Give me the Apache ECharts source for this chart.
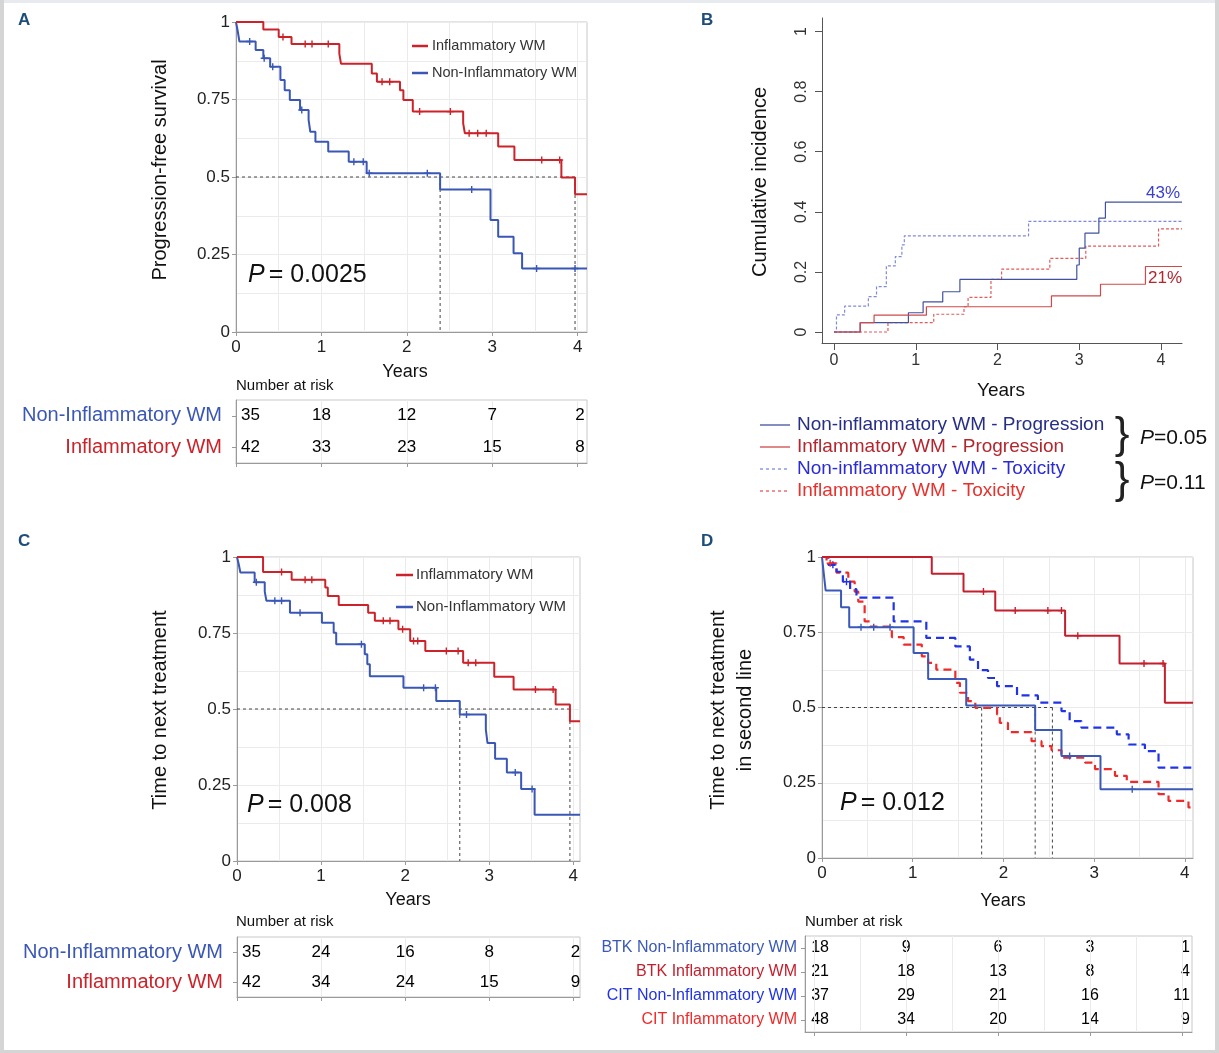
<!DOCTYPE html>
<html><head><meta charset="utf-8">
<script src="https://cdn.jsdelivr.net/npm/echarts@6/dist/echarts.min.js"></script>
<style>html,body{margin:0;padding:0;background:#fff}#c{width:1219px;height:1053px}</style>
</head><body><div id="c"></div><script>
// ---------------- DATA ----------------
const yearTicks = [0, 1, 2, 3, 4];
// Panel A: progression-free survival
const A_inf_t = [0, 0.32, 0.50, 0.65, 1.21, 1.23, 1.59, 1.65, 1.92, 1.96, 2.07, 2.66, 2.68, 3.07, 3.26, 3.81, 3.97, 4.11];
const A_inf_s = [1, 0.976, 0.952, 0.929, 0.897, 0.865, 0.834, 0.807, 0.78, 0.748, 0.711, 0.673, 0.641, 0.598, 0.555, 0.498, 0.444, 0.444];
const A_inf_cens = [0.55, 0.81, 0.89, 1.08, 1.71, 1.80, 2.15, 2.51, 2.73, 2.83, 2.93, 3.58, 3.79];
const A_non_t = [0, 0.02, 0.04, 0.23, 0.32, 0.40, 0.52, 0.57, 0.63, 0.75, 0.85, 0.87, 0.93, 1.08, 1.32, 1.53, 2.39, 2.98, 3.07, 3.25, 3.35, 4.11];
const A_non_s = [1, 0.971, 0.937, 0.91, 0.883, 0.856, 0.813, 0.78, 0.748, 0.716, 0.684, 0.646, 0.614, 0.582, 0.549, 0.512, 0.46, 0.361, 0.307, 0.254, 0.205, 0.205];
const A_non_cens = [0.16, 0.33, 0.43, 0.77, 1.38, 1.49, 1.56, 2.24, 2.76, 3.52, 3.97];
const A_medians = [2.39, 3.97];
const A_risk_rows = ['Non-Inflammatory WM', 'Inflammatory WM'];
const A_risk_non = [35, 18, 12, 7, 2];
const A_risk_inf = [42, 33, 23, 15, 8];

// Panel B: cumulative incidence
const B_nonProg_t = [0, 0.32, 0.91, 1.09, 1.33, 1.54, 2.97, 3.0, 3.07, 3.24, 3.32, 4.257];
const B_nonProg_v = [0, 0.031, 0.064, 0.10, 0.134, 0.175, 0.223, 0.279, 0.329, 0.379, 0.432, 0.432];
const B_infProg_t = [0, 0.32, 0.49, 1.13, 2.66, 3.26, 3.81, 4.257];
const B_infProg_v = [0, 0.031, 0.056, 0.084, 0.12, 0.159, 0.218, 0.218];
const B_nonTox_t = [0, 0.03, 0.13, 0.42, 0.52, 0.64, 0.75, 0.83, 0.86, 2.38, 4.257];
const B_nonTox_v = [0, 0.057, 0.086, 0.118, 0.151, 0.22, 0.251, 0.29, 0.32, 0.368, 0.368];
const B_infTox_t = [0, 0.66, 1.22, 1.59, 1.64, 1.92, 2.05, 2.64, 3.08, 3.97, 4.257];
const B_infTox_v = [0, 0.031, 0.059, 0.084, 0.115, 0.175, 0.209, 0.245, 0.286, 0.343, 0.343];
const B_yTicks = [0, 0.2, 0.4, 0.6, 0.8, 1];

// Panel C: time to next treatment
const C_inf_t = [0, 0.31, 0.65, 1.05, 1.08, 1.21, 1.56, 1.64, 1.92, 2.06, 2.24, 2.69, 3.06, 3.29, 3.79, 3.96, 4.08];
const C_inf_s = [1, 0.951, 0.925, 0.90, 0.872, 0.842, 0.817, 0.79, 0.762, 0.724, 0.691, 0.652, 0.606, 0.564, 0.515, 0.46, 0.46];
const C_inf_cens = [0.53, 0.81, 0.89, 1.74, 1.82, 1.97, 2.10, 2.15, 2.49, 2.63, 2.75, 2.84, 3.55, 3.76];
const C_non_t = [0, 0.02, 0.04, 0.21, 0.33, 0.35, 0.63, 1.01, 1.15, 1.18, 1.52, 1.55, 1.58, 1.98, 2.37, 2.65, 2.96, 2.98, 3.07, 3.21, 3.38, 3.54, 4.08];
const C_non_s = [1, 0.977, 0.949, 0.917, 0.886, 0.856, 0.817, 0.784, 0.751, 0.713, 0.68, 0.647, 0.608, 0.57, 0.526, 0.482, 0.432, 0.388, 0.336, 0.291, 0.237, 0.152, 0.152];
const C_non_cens = [0.23, 0.45, 0.53, 0.75, 1.48, 2.22, 2.36, 2.73, 3.31, 3.51];
const C_medians = [2.65, 3.96];
const C_risk_non = [35, 24, 16, 8, 2];
const C_risk_inf = [42, 34, 24, 15, 9];

// Panel D: time to next treatment in second line
const D_btkInf_t = [0, 1.21, 1.56, 1.91, 2.68, 3.28, 3.78, 4.09];
const D_btkInf_s = [1, 0.944, 0.885, 0.822, 0.738, 0.646, 0.516, 0.516];
const D_btkInf_cens = [1.78, 2.13, 2.49, 2.64, 2.82, 3.55, 3.76];
const D_btkNon_t = [0, 0.02, 0.04, 0.21, 0.30, 1.01, 1.17, 1.59, 2.35, 2.64, 3.07, 4.09];
const D_btkNon_s = [1, 0.944, 0.889, 0.833, 0.767, 0.681, 0.595, 0.507, 0.425, 0.339, 0.228, 0.228];
const D_btkNon_cens = [0.43, 0.57, 0.75, 2.73, 3.42];
const D_citNon_t = [0, 0.07, 0.16, 0.23, 0.31, 0.38, 0.79, 1.15, 1.47, 1.63, 1.72, 1.83, 1.93, 2.15, 2.38, 2.64, 2.73, 2.86, 3.25, 3.38, 3.56, 3.71, 4.09];
const D_citNon_s = [1, 0.974, 0.951, 0.918, 0.893, 0.865, 0.786, 0.731, 0.703, 0.659, 0.624, 0.598, 0.571, 0.54, 0.516, 0.488, 0.455, 0.433, 0.411, 0.377, 0.355, 0.30, 0.30];
const D_citNon_cens = [0.12, 0.27];
const D_citInf_t = [0, 0.05, 0.16, 0.29, 0.36, 0.40, 0.47, 0.53, 0.77, 0.90, 1.10, 1.17, 1.26, 1.47, 1.52, 1.61, 1.69, 1.93, 1.96, 2.05, 2.31, 2.42, 2.53, 2.64, 2.90, 3.01, 3.23, 3.36, 3.71, 3.82, 4.04, 4.09];
const D_citInf_s = [1, 0.979, 0.948, 0.918, 0.885, 0.852, 0.786, 0.769, 0.734, 0.709, 0.67, 0.648, 0.626, 0.582, 0.549, 0.521, 0.499, 0.477, 0.449, 0.418, 0.388, 0.372, 0.358, 0.333, 0.317, 0.295, 0.273, 0.253, 0.212, 0.19, 0.168, 0.168];
const D_citInf_cens = [0.09];
const D_medians = [1.76, 2.35, 2.54];
const D_risk_rows = ['BTK Non-Inflammatory WM', 'BTK Inflammatory WM', 'CIT Non-Inflammatory WM', 'CIT Inflammatory WM'];
const D_risk_btkNon = [18, 9, 6, 3, 1];
const D_risk_btkInf = [21, 18, 13, 8, 4];
const D_risk_citNon = [37, 29, 21, 16, 11];
const D_risk_citInf = [48, 34, 20, 14, 9];

// ---------------- STYLE ----------------
const FONT = '"Liberation Sans", Arial, Helvetica, sans-serif';
const RED = '#cc2229', BLUE = '#3a57b5';
const D_BTK_INF = '#c41f2c', D_BTK_NON = '#3a59b8', D_CIT_NON = '#2034e6', D_CIT_INF = '#ef2a2a';
const GRIDC = '#ebebeb', AXC = '#9a9a9a';
const PLUS = 'path://M4,0H6V4H10V6H6V10H4V6H0V4H4Z';

// ---------------- HELPERS ----------------
const pts = (t, s) => t.map((x, i) => [x, s[i]]);
function stepAt(t, s, x) { let v = s[0]; for (let i = 0; i < t.length; i++) if (t[i] <= x) v = s[i]; return v; }
function curve(ax, t, s, color, width, dash) {
  return { type: 'line', xAxisIndex: ax, yAxisIndex: ax, data: pts(t, s), step: 'end', symbol: 'none',
    lineStyle: { color, width, type: dash || 'solid' }, silent: true, z: 3 };
}
function censors(ax, t, s, c, color) {
  return { type: 'scatter', xAxisIndex: ax, yAxisIndex: ax, data: c.map(x => [x, stepAt(t, s, x)]),
    symbol: PLUS, symbolSize: 7, itemStyle: { color, opacity: 1 }, silent: true, z: 4 };
}
function seg(ax, a, b) {
  return { type: 'line', xAxisIndex: ax, yAxisIndex: ax, data: [a, b], symbol: 'none', silent: true, z: 2,
    lineStyle: { color: '#444', width: 1, type: [3, 3] } };
}
function medians(ax, meds) {
  const out = [seg(ax, [0, 0.5], [Math.max(...meds), 0.5])];
  meds.forEach(m => out.push(seg(ax, [m, 0.5], [m, 0])));
  return out;
}
function riskSeries(ax, row, vals, offL, offR, size) {
  return { type: 'scatter', xAxisIndex: ax, yAxisIndex: ax, symbolSize: 0, silent: true,
    itemStyle: { opacity: 1, color: '#000' },
    data: vals.map((v, i) => {
      const lab = i === 0 ? { align: 'left', offset: [offL, 0] } : (i === vals.length - 1 ? { align: 'right', offset: [offR, 0] } : {});
      return { value: [yearTicks[i], row, v], label: lab };
    }),
    label: { show: true, position: 'inside', formatter: p => p.value[2], fontSize: size || 17, color: '#000',
      opacity: 1, textBorderWidth: 0, fontFamily: FONT } };
}
function plotX(g, max) {
  return { gridIndex: g, type: 'value', min: 0, max, interval: 1,
    axisLine: { show: true, lineStyle: { color: AXC } },
    axisTick: { show: true, length: 4, customValues: yearTicks, lineStyle: { color: AXC } },
    axisLabel: { customValues: yearTicks, fontSize: 17, color: '#222', margin: 7, fontFamily: FONT },
    splitLine: { show: true, lineStyle: { color: GRIDC } },
    minorTick: { show: false, splitNumber: 2 }, minorSplitLine: { show: true, lineStyle: { color: GRIDC } } };
}
function plotY(g) {
  return { gridIndex: g, type: 'value', min: 0, max: 1, interval: 0.25,
    axisLine: { show: true, lineStyle: { color: AXC } },
    axisTick: { show: true, length: 4, lineStyle: { color: AXC } },
    axisLabel: { fontSize: 17, color: '#222', margin: 6, fontFamily: FONT },
    splitLine: { show: true, lineStyle: { color: GRIDC } },
    minorTick: { show: false, splitNumber: 2 }, minorSplitLine: { show: true, lineStyle: { color: GRIDC } } };
}
function tableX(g, min, max, grid) {
  return { gridIndex: g, type: 'value', min, max, interval: grid ? 0.5 : undefined,
    axisLine: { show: true, onZero: false, lineStyle: { color: AXC } },
    axisTick: { show: true, length: 4, customValues: yearTicks, lineStyle: { color: AXC } },
    axisLabel: { show: false }, splitLine: { show: !!grid, lineStyle: { color: GRIDC } } };
}
function tableY(g, rows, colors, size, margin) {
  return { gridIndex: g, type: 'category', data: rows, inverse: true,
    axisLine: { show: true, onZero: false, lineStyle: { color: AXC } },
    axisTick: { show: true, length: 4, alignWithLabel: true, lineStyle: { color: AXC } },
    axisLabel: { fontSize: size, margin, fontFamily: FONT, color: (v, i) => colors[i] },
    splitLine: { show: false } };
}
function T(x, y, text, size, color, o) {
  o = o || {};
  return { type: 'text', x, y, rotation: o.rot || 0, z: 10,
    style: { text, fill: color, font: (o.weight || 'normal') + ' ' + (o.italic ? 'italic ' : '') + size + 'px ' + FONT,
      align: o.align || 'left', verticalAlign: 'middle', lineHeight: o.lh, rich: o.rich } };
}
function L(x1, y1, x2, y2, color, w, dash) {
  return { type: 'line', z: 10, shape: { x1, y1, x2, y2 }, style: { stroke: color, lineWidth: w, lineDash: dash || null } };
}
function pText(x, y, val) {
  return T(x, y, '{i|P}{n|= ' + val + '}', 25, '#111', { rich: {
    i: { font: 'italic 25px ' + FONT, fill: '#111', padding: [0, 4, 0, 0] }, n: { font: '25px ' + FONT, fill: '#111' } } });
}

// ---------------- OPTION ----------------
const grids = [
  { left: 236, top: 22, width: 351, height: 310 },   // 0 A plot
  { left: 236, top: 400, width: 351, height: 63 },   // 1 A table
  { left: 822, top: 18, width: 360, height: 325 },   // 2 B plot
  { left: 237, top: 557, width: 343, height: 304 },  // 3 C plot
  { left: 237, top: 937, width: 343, height: 60 },   // 4 C table
  { left: 822, top: 557, width: 371, height: 301 },  // 5 D plot
  { left: 805, top: 936, width: 387, height: 96 }    // 6 D table
].map(g => Object.assign({ show: true, borderColor: '#c8c8c8', borderWidth: 1, backgroundColor: 'transparent' }, g));
grids[2].show = false;

const xAxes = [
  plotX(0, 4.11),
  tableX(1, 0, 4.11, true),
  { gridIndex: 2, type: 'value', min: -0.147, max: 4.257,
    axisLine: { show: true, onZero: false, lineStyle: { color: '#555' } },
    axisTick: { show: true, length: 7, customValues: yearTicks, lineStyle: { color: '#555' } },
    axisLabel: { customValues: yearTicks, fontSize: 16, color: '#333', margin: 10, fontFamily: FONT },
    splitLine: { show: false } },
  plotX(3, 4.08),
  tableX(4, 0, 4.08, true),
  plotX(5, 4.09),
  tableX(6, -0.1, 4.11, false)
];
const yAxes = [
  plotY(0),
  tableY(1, A_risk_rows, [BLUE, RED], 20, 14),
  { gridIndex: 2, type: 'value', min: -0.0366, max: 1.045,
    axisLine: { show: true, onZero: false, lineStyle: { color: '#555' } },
    axisTick: { show: true, length: 7, customValues: B_yTicks, lineStyle: { color: '#555' } },
    axisLabel: { customValues: B_yTicks, rotate: 90, fontSize: 16, color: '#333', margin: 12, fontFamily: FONT },
    splitLine: { show: false } },
  plotY(3),
  tableY(4, A_risk_rows, [BLUE, RED], 20, 14),
  plotY(5),
  tableY(6, D_risk_rows, [D_BTK_NON, D_BTK_INF, D_CIT_NON, D_CIT_INF], 16, 8)
];

const series = [
  // A
  ...medians(0, A_medians),
  curve(0, A_non_t, A_non_s, BLUE, 2), curve(0, A_inf_t, A_inf_s, RED, 2),
  censors(0, A_non_t, A_non_s, A_non_cens, BLUE), censors(0, A_inf_t, A_inf_s, A_inf_cens, RED),
  riskSeries(1, A_risk_rows[0], A_risk_non, 5, 7), riskSeries(1, A_risk_rows[1], A_risk_inf, 5, 7),
  // B
  curve(2, B_nonTox_t, B_nonTox_v, '#7f89dc', 1.2, [3, 2]),
  curve(2, B_infTox_t, B_infTox_v, '#e25a5a', 1.2, [3, 2]),
  curve(2, B_nonProg_t, B_nonProg_v, '#41529f', 1.2),
  curve(2, B_infProg_t, B_infProg_v, '#cf4a4a', 1.2),
  // C
  ...medians(3, C_medians),
  curve(3, C_non_t, C_non_s, BLUE, 2), curve(3, C_inf_t, C_inf_s, RED, 2),
  censors(3, C_non_t, C_non_s, C_non_cens, BLUE), censors(3, C_inf_t, C_inf_s, C_inf_cens, RED),
  riskSeries(4, A_risk_rows[0], C_risk_non, 5, 7), riskSeries(4, A_risk_rows[1], C_risk_inf, 5, 7),
  // D
  ...medians(5, D_medians),
  curve(5, D_citInf_t, D_citInf_s, D_CIT_INF, 2.2, [8, 5]),
  curve(5, D_citNon_t, D_citNon_s, D_CIT_NON, 2.2, [8, 5]),
  curve(5, D_btkNon_t, D_btkNon_s, D_BTK_NON, 2),
  curve(5, D_btkInf_t, D_btkInf_s, D_BTK_INF, 2),
  censors(5, D_btkInf_t, D_btkInf_s, D_btkInf_cens, D_BTK_INF),
  censors(5, D_btkNon_t, D_btkNon_s, D_btkNon_cens, D_BTK_NON),
  censors(5, D_citNon_t, D_citNon_s, D_citNon_cens, D_CIT_NON),
  censors(5, D_citInf_t, D_citInf_s, D_citInf_cens, D_CIT_INF),
  Object.assign(riskSeries(6, D_risk_rows[0], D_risk_btkNon, -3, 8, 16), {
    markLine: { silent: true, symbol: 'none', label: { show: false }, lineStyle: { color: GRIDC, type: 'solid', width: 1 },
      data: [0, 0.5, 1, 1.5, 2, 2.5, 3, 3.5, 4].map(v => ({ xAxis: v })) } }),
  riskSeries(6, D_risk_rows[1], D_risk_btkInf, -3, 8, 16),
  riskSeries(6, D_risk_rows[2], D_risk_citNon, -3, 8, 16),
  riskSeries(6, D_risk_rows[3], D_risk_citInf, -3, 8, 16)
];
series.forEach(s => { s.animation = false; });

const LET = '#1f4d7a';
const richP = sz => ({ i: { font: 'italic ' + sz + 'px ' + FONT, fill: '#111' }, n: { font: sz + 'px ' + FONT, fill: '#111' } });
const graphic = [
  // frame
  { type: 'rect', shape: { x: 0, y: 0, width: 1219, height: 3 }, style: { fill: '#e7ebef' }, z: 20 },
  { type: 'rect', shape: { x: 0, y: 0, width: 4, height: 1053 }, style: { fill: '#d5d5d5' }, z: 20 },
  { type: 'rect', shape: { x: 1215, y: 0, width: 4, height: 1053 }, style: { fill: '#d5d5d5' }, z: 20 },
  { type: 'rect', shape: { x: 0, y: 1050, width: 1219, height: 3 }, style: { fill: '#d5d5d5' }, z: 20 },
  // panel letters
  T(18, 20, 'A', 17, LET, { weight: 'bold' }), T(701, 20, 'B', 17, LET, { weight: 'bold' }),
  T(18, 541, 'C', 17, LET, { weight: 'bold' }), T(701, 541, 'D', 17, LET, { weight: 'bold' }),
  // A
  T(160, 170, 'Progression-free survival', 20, '#111', { rot: Math.PI / 2, align: 'center' }),
  T(405, 372, 'Years', 18, '#111', { align: 'center' }),
  T(236, 386, 'Number at risk', 15, '#111'),
  pText(248, 275, '0.0025'),
  L(412, 46, 428, 46, RED, 2.5), T(432, 46, 'Inflammatory WM', 14.5, '#333'),
  L(412, 73, 428, 73, BLUE, 2.5), T(432, 73, 'Non-Inflammatory WM', 14.5, '#333'),
  // B
  T(760, 182, 'Cumulative incidence', 20, '#111', { rot: Math.PI / 2, align: 'center' }),
  T(1001, 391, 'Years', 19, '#111', { align: 'center' }),
  T(1180, 193, '43%', 17, '#3a3fd0', { align: 'right' }),
  T(1182, 278, '21%', 17, '#b3262e', { align: 'right' }),
  L(760, 425, 790, 425, '#41529f', 1.3), T(797, 425, 'Non-inflammatory WM - Progression', 19, '#262f85'),
  L(760, 447, 790, 447, '#cf4a4a', 1.3), T(797, 447, 'Inflammatory WM - Progression', 19, '#b3262e'),
  L(760, 469, 790, 469, '#7f89dc', 1.3, [3, 3]), T(797, 469, 'Non-inflammatory WM - Toxicity', 19, '#2b2bd6'),
  L(760, 491, 790, 491, '#e25a5a', 1.3, [3, 3]), T(797, 491, 'Inflammatory WM - Toxicity', 19, '#e5322d'),
  T(1122, 436, '}', 44, '#222', { align: 'center' }), T(1122, 481, '}', 44, '#222', { align: 'center' }),
  T(1140, 438, '{i|P}{n|=0.05}', 20, '#111', { rich: richP(21) }),
  T(1140, 483, '{i|P}{n|=0.11}', 20, '#111', { rich: richP(21) }),
  // C
  T(160, 710, 'Time to next treatment', 20, '#111', { rot: Math.PI / 2, align: 'center' }),
  T(408, 900, 'Years', 18, '#111', { align: 'center' }),
  T(236, 922, 'Number at risk', 15, '#111'),
  pText(247, 805, '0.008'),
  L(396, 575, 413, 575, RED, 2.5), T(416, 575, 'Inflammatory WM', 15, '#333'),
  L(396, 607, 413, 607, BLUE, 2.5), T(416, 607, 'Non-Inflammatory WM', 15, '#333'),
  // D
  T(732, 710, 'Time to next treatment\nin second line', 20, '#111', { rot: Math.PI / 2, align: 'center', lh: 27 }),
  T(1003, 901, 'Years', 18, '#111', { align: 'center' }),
  T(805, 922, 'Number at risk', 15, '#111'),
  pText(840, 803, '0.012')
];

const chart = echarts.init(document.getElementById('c'), null, { renderer: 'canvas' });
chart.setOption({ animation: false, backgroundColor: '#fff', textStyle: { fontFamily: FONT },
  grid: grids, xAxis: xAxes, yAxis: yAxes, series, graphic });
</script></body></html>
